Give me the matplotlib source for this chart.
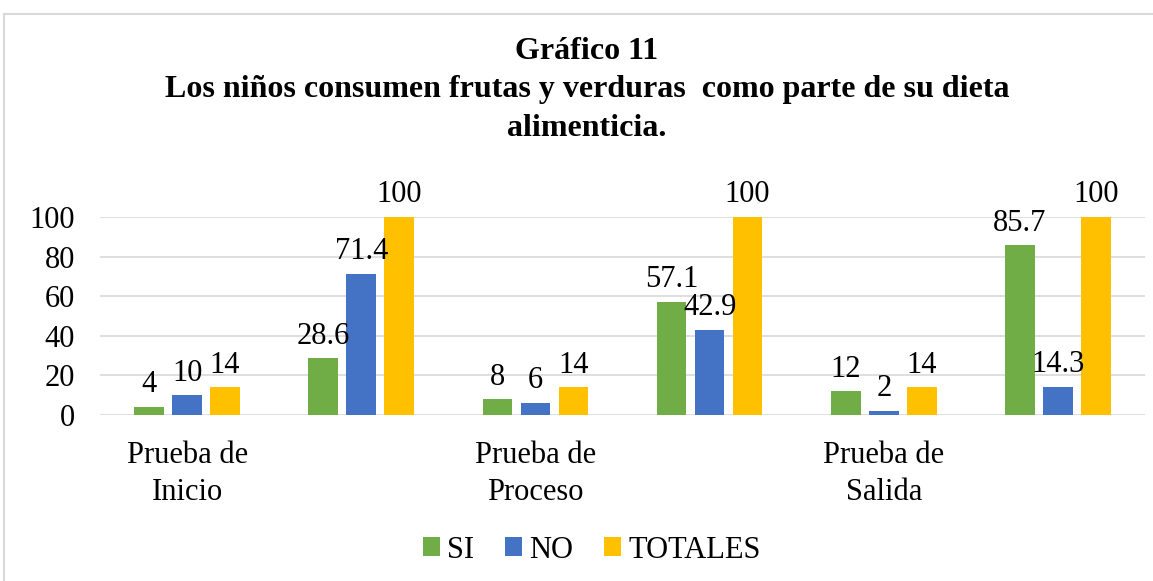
import matplotlib
matplotlib.use('agg')
import matplotlib.pyplot as plt
from matplotlib.patches import Rectangle
import numpy as np

plt.rcParams['font.family'] = ['Liberation Serif', 'DejaVu Serif']

# grouped values per test stage
categories = ['Prueba de\nInicio', '', 'Prueba de\nProceso', '', 'Prueba de\nSalida', '']
si = [4, 28.6, 8, 57.1, 12, 85.7]
no = [10, 71.4, 6, 42.9, 2, 14.3]
totales = [14, 100, 14, 100, 14, 100]
series_names = ['SI', 'NO', 'TOTALES']
colors = ['#70AD47', '#4472C4', '#FFC000']
yticks = [0, 20, 40, 60, 80, 100]

FS = 22

fig = plt.figure(figsize=(11.53, 5.81), dpi=100)
ax = fig.add_axes([100 / 1153, 1 - 415 / 581, 1045 / 1153, 198 / 581])

# light frame around the whole chart
fig.patches.append(Rectangle((4 / 1153, -0.05), 1.1, 1 - 14 / 581 + 0.05,
                             transform=fig.transFigure, fill=False,
                             edgecolor='#d9d9d9', linewidth=1.5))

x = np.arange(len(categories))
width = 0.17
step = 0.218
for i, (vals, name, c) in enumerate(zip([si, no, totales], series_names, colors)):
    bars = ax.bar(x + (i - 1) * step, vals, width, color=c, label=name, zorder=3)
    for b, v in zip(bars, vals):
        ax.annotate(f'{v:g}', (b.get_x() + b.get_width() / 2, v),
                    xytext=(0, 5.5), textcoords='offset points',
                    ha='center', va='bottom', fontsize=FS,
                    annotation_clip=False, zorder=4)

ax.set_xlim(-0.5, len(categories) - 0.5)
ax.set_ylim(0, 100)
ax.set_yticks(yticks)
ax.set_xticks(x)
ax.set_xticklabels(categories, linespacing=1.35)
ax.tick_params(axis='y', length=0, pad=18, labelsize=FS)
ax.tick_params(axis='x', length=0, pad=19, labelsize=FS)
ax.grid(axis='y', color='#d9d9d9', linewidth=1.2, zorder=0)
for s in ax.spines.values():
    s.set_visible(False)

fig.text(587 / 1153, 1 - 90 / 581,
         'Gráfico 11\nLos niños consumen frutas y verduras  como parte de su dieta\nalimenticia.',
         ha='center', va='center', fontsize=23, fontweight='bold', linespacing=1.45)

ax.legend(loc='center', bbox_to_anchor=(592 / 1153, 1 - 550 / 581),
          bbox_transform=fig.transFigure, ncol=3, frameon=False,
          fontsize=FS, handlelength=0.55, handleheight=0.55,
          handletextpad=0.25, columnspacing=1.0)

fig.savefig('out.png', dpi=100)
